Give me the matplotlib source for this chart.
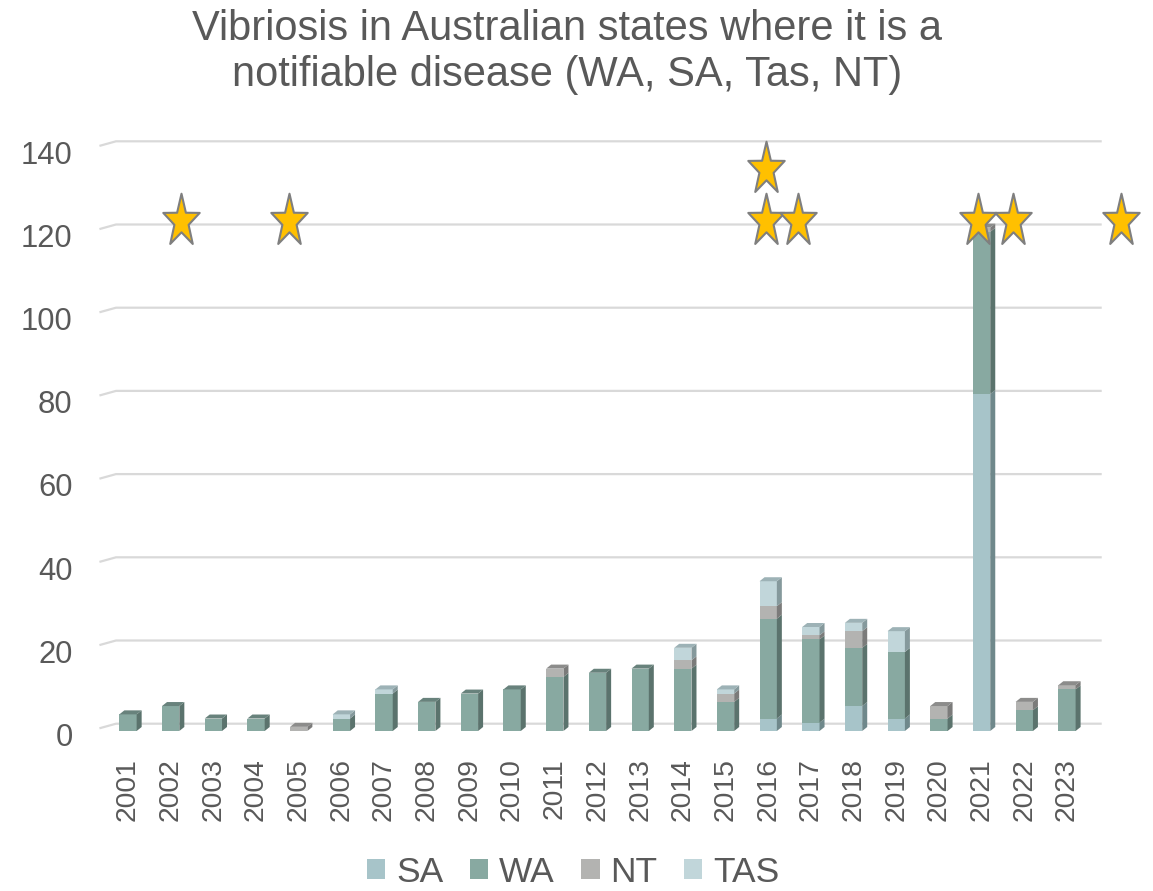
import numpy as np
import matplotlib.pyplot as plt
from matplotlib.patches import Polygon, Patch
from matplotlib.path import Path
from matplotlib.transforms import ScaledTranslation

plt.rcParams['font.family'] = ['Liberation Sans', 'DejaVu Sans']

# data
years = [str(y) for y in range(2001, 2024)]
sa = [0, 0, 0, 0, 0, 0, 0, 0, 0, 0, 0, 0, 0, 0, 0, 3, 2, 6, 3, 0, 81, 0, 0]
wa = [4, 6, 3, 3, 0, 3, 9, 7, 9, 10, 13, 14, 15, 15, 7, 24, 20, 14, 16, 3, 39, 5, 10]
nt = [0, 0, 0, 0, 1, 0, 0, 0, 0, 0, 2, 0, 0, 2, 2, 3, 1, 4, 0, 3, 1, 2, 1]
tas = [0, 0, 0, 0, 0, 1, 1, 0, 0, 0, 0, 0, 0, 3, 1, 6, 2, 2, 5, 0, 0, 0, 0]
series = ["SA", "WA", "NT", "TAS"]
yticks = [0, 20, 40, 60, 80, 100, 120, 140]

# star markers (position along the category axis, value)
star_x = [1.25, 3.77, 14.95, 14.95, 15.69, 19.92, 20.74, 23.27]
star_y = [122.5, 122.5, 122.5, 135, 122.5, 122.5, 122.5, 122.5]

front = {"SA": "#A7C4C9", "WA": "#88A9A1", "NT": "#B3B3B1", "TAS": "#C1D6DA"}
side = {"SA": "#6F888B", "WA": "#5B736D", "NT": "#7B7B7A", "TAS": "#85999C"}
topc = {"SA": "#8AA3A7", "WA": "#68827C", "NT": "#8C8C8B", "TAS": "#9DB2B6"}
txt = "#595959"

W, H = 1153, 891
fig = plt.figure(figsize=(W / 100, H / 100), dpi=100)
left_px, right_px, bot_px, top_px = 100.5, 1100.6, 731, 148.6
ax = fig.add_axes([left_px / W, (H - bot_px) / H,
                   (right_px - left_px) / W, (bot_px - top_px) / H])
px_x = 42.68
x0 = -(128 - left_px) / px_x
x1 = x0 + (right_px - left_px) / px_x
ax.set_xlim(x0, x1)
ax.set_ylim(0, 140)
px_y = (bot_px - top_px) / 140

for s in ax.spines.values():
    s.set_visible(False)

# back wall gridlines with small floor diagonal
back = 7.3 / px_y
gx0 = x0 + 15.5 / px_x
for g in yticks:
    ax.plot([x0, gx0, x1], [g + 3 / px_y, g + back, g + back],
            color="#D9D9D9", lw=1.6, zorder=0, clip_on=False)

# 3d-ish stacked bars
bw = 17.3 / px_x
dx = 5 / px_x
dy = 4 / px_y
data = {"SA": sa, "WA": wa, "NT": nt, "TAS": tas}
xs = np.arange(len(years))
for i in xs:
    b = 0
    last = None
    for name in series:
        h = data[name][i]
        if h <= 0:
            continue
        ax.bar(i, h, bottom=b, width=bw, color=front[name], zorder=2, linewidth=0)
        xr = i + bw / 2
        ax.add_patch(Polygon([(xr, b), (xr + dx, b + dy), (xr + dx, b + h + dy), (xr, b + h)],
                             closed=True, facecolor=side[name], edgecolor="none", zorder=2))
        b += h
        last = name
    if last is not None:
        xl = i - bw / 2
        xr = i + bw / 2
        ax.add_patch(Polygon([(xl, b), (xl + dx, b + dy), (xr + dx, b + dy), (xr, b)],
                             closed=True, facecolor=topc[last], edgecolor="none", zorder=2))

# star marker path, stretched vertically
ang = np.pi / 2 + np.arange(10) * np.pi / 5
rad = np.where(np.arange(10) % 2 == 0, 1.0, 0.39)
verts = np.column_stack([rad * np.cos(ang), 1.45 * rad * np.sin(ang)])
verts = np.vstack([verts, verts[:1]])
star = Path(verts, closed=True)
ax.scatter(star_x, star_y, marker=star, s=40 ** 2, c="#FFC000",
           edgecolors="#7F7F7F", linewidths=1.5, zorder=5, clip_on=False)

ax.set_yticks(yticks)
ax.set_xticks(xs)
ax.set_xticklabels(years, rotation=90)
ax.tick_params(axis="y", length=0, pad=20, labelsize=22.3, labelcolor=txt)
ax.tick_params(axis="x", length=0, pad=19.5, labelsize=20.4, labelcolor=txt)
for lab in ax.get_yticklabels():
    lab.set_transform(lab.get_transform() + ScaledTranslation(0, -3.5 / 100, fig.dpi_scale_trans))

fig.text(567 / W, 1 - 9 / H,
         "Vibriosis in Australian states where it is a\nnotifiable disease (WA, SA, Tas, NT)",
         ha="center", va="top", fontsize=30, color=txt, linespacing=1.2,
         multialignment="center")

handles = [Patch(facecolor=front[n], edgecolor="none") for n in series]
leg = fig.legend(handles, series, loc="center", bbox_to_anchor=(573 / W, 19 / H), ncol=4,
                 frameon=False, fontsize=25.5, handlelength=0.52, handleheight=0.52,
                 handletextpad=0.3, columnspacing=0.75, borderpad=0)
for t in leg.get_texts():
    t.set_color(txt)

fig.savefig("out.png", dpi=100)
